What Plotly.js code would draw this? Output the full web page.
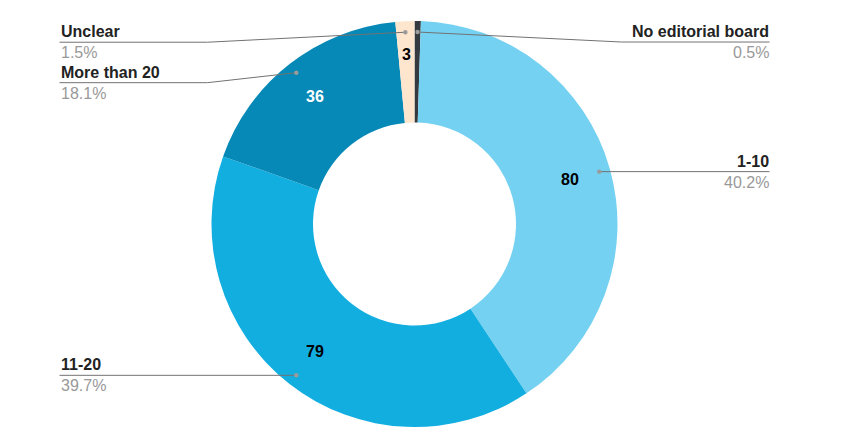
<!DOCTYPE html>
<html>
<head>
<meta charset="utf-8">
<script src="https://cdn.plot.ly/plotly-3.0.1.min.js"></script>
<style>
  html, body { margin: 0; padding: 0; background: #ffffff; }
  #chart { width: 857px; height: 444px; }
</style>
</head>
<body>
<div id="chart"></div>
<script>
// ---- data ----
const labels = ["No editorial board", "1-10", "11-20", "More than 20", "Unclear"];
const values = [1, 80, 79, 36, 3];
const showValue = [false, true, true, true, true];

// ---- styles ----
const colors = ["#343a40", "#75d1f1", "#13aee0", "#0689b6", "#fde6cd"];
const valueColors = ["#000000", "#000000", "#000000", "#ffffff", "#000000"];
const FONT = "Liberation Sans, Arial, sans-serif";

// geometry (pixels, relative to pie centre; y up)
const R_OUT = 203;
const R_DOT = 192;
const R_VAL = 162;
const leaderEndX = 355;
const elbowX = 207;
const leaderDrop = {"No editorial board": 10, "Unclear": 10, "More than 20": 10};

const total = values.reduce((a, b) => a + b, 0);
const traces = [{
  type: "pie",
  labels: labels,
  values: values,
  sort: false,
  direction: "clockwise",
  rotation: 0,
  hole: 0.5,
  marker: { colors: colors, line: { width: 0 } },
  textinfo: "none",
  textposition: "none",
  hoverinfo: "none",
  showlegend: false,
  domain: { x: [0, 1], y: [0, 1] }
}, {
  // invisible cartesian trace so the x/y axes exist for shapes & annotations
  type: "scatter", mode: "markers", x: [0], y: [0],
  marker: { opacity: 0 }, hoverinfo: "skip", showlegend: false
}];

const annotations = [];
const shapes = [];
let cum = 0;
labels.forEach((lab, i) => {
  const mid = (cum + values[i] / 2) / total * 2 * Math.PI;
  cum += values[i];
  const sx = Math.sin(mid), cy = Math.cos(mid);
  if (showValue[i]) {
    const rv = values[i] / total < 0.03 ? 170 : R_VAL;
    annotations.push({
      xref: "x", yref: "y", x: rv * sx, y: rv * cy,
      xanchor: "center", yanchor: "middle", showarrow: false,
      text: "<b>" + values[i] + "</b>",
      font: { family: FONT, size: 16, color: valueColors[i] }
    });
  }
  const dx = R_DOT * sx, dy = R_DOT * cy;
  const right = sx >= 0;
  const side = right ? 1 : -1;
  const drop = leaderDrop[lab] || 0;
  const ly = dy - drop;
  let path;
  if (drop) {
    path = `M${dx},${dy} L${side * elbowX},${ly} L${side * leaderEndX},${ly}`;
  } else {
    path = `M${dx},${dy} L${side * leaderEndX},${ly}`;
  }
  shapes.push({
    type: "path", xref: "x", yref: "y", path: path, layer: "above",
    line: { color: "#727272", width: 1 }
  });
  shapes.push({
    type: "circle", xref: "x", yref: "y", layer: "above",
    x0: dx - 2.2, x1: dx + 2.2, y0: dy - 2.2, y1: dy + 2.2,
    fillcolor: "#9a9a9a", line: { width: 0 }
  });
  const pct = (values[i] / total * 100).toFixed(1) + "%";
  annotations.push({
    xref: "x", yref: "y", x: side * leaderEndX, y: ly + 1,
    xanchor: right ? "right" : "left", yanchor: "bottom",
    text: "<b>" + lab + "</b>", showarrow: false,
    font: { family: FONT, size: 16, color: "#222222" }, borderpad: 0
  });
  annotations.push({
    xref: "x", yref: "y", x: side * leaderEndX, y: ly - 1,
    xanchor: right ? "right" : "left", yanchor: "top",
    text: pct, showarrow: false,
    font: { family: FONT, size: 16, color: "#999999" }, borderpad: 0
  });
});

const layout = {
  width: 857, height: 444,
  margin: { l: 0, r: 28, t: 21, b: 17 },
  paper_bgcolor: "#ffffff", plot_bgcolor: "rgba(0,0,0,0)",
  xaxis: { range: [-414.5, 414.5], visible: false, fixedrange: true },
  yaxis: { range: [-R_OUT, R_OUT], visible: false, fixedrange: true },
  annotations: annotations,
  shapes: shapes,
  showlegend: false
};

Plotly.newPlot("chart", traces, layout, { displayModeBar: false, staticPlot: true });
</script>
</body>
</html>
